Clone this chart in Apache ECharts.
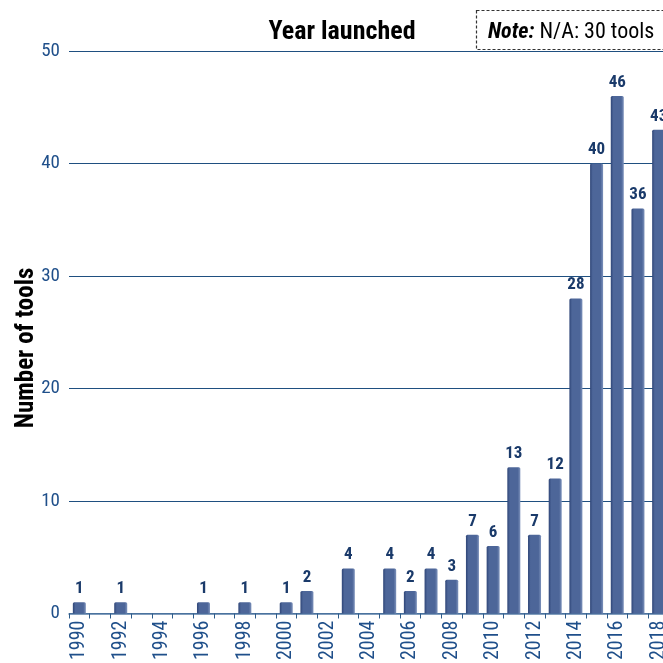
<!DOCTYPE html>
<html><head><meta charset="utf-8">
<script src="https://cdn.jsdelivr.net/npm/echarts@6/dist/echarts.min.js"></script>
<style>html,body{margin:0;padding:0;background:#fff;overflow:hidden}#c{width:669px;height:663px}</style>
</head><body><div id="c"></div>
<script>
const years = ['1990','1991','1992','1993','1994','1995','1996','1997','1998','1999','2000','2001','2002','2003','2004','2005','2006','2007','2008','2009','2010','2011','2012','2013','2014','2015','2016','2017','2018'];
const tools = [1,'-',1,'-','-','-',1,'-',1,'-',1,2,'-',4,'-',4,2,4,3,7,6,13,7,12,28,40,46,36,43];
const yTicks = {min:0, max:50, interval:10};
const titleText = 'Year launched';
const noteBold = 'Note:';
const noteText = ' N/A: 30 tools';
const yName = 'Number of tools';

const FONT = '"Liberation Sans Narrow", "Roboto Condensed", "Liberation Sans", Arial, sans-serif';
const chart = echarts.init(document.getElementById('c'));
chart.setOption({
  animation:false,
  grid:{left:69, right:0, top:51, bottom:47, containLabel:false},
  xAxis:{
    type:'category', data:years,
    axisLine:{lineStyle:{color:'#5a7fa8', width:1.5}},
    axisTick:{show:true, alignWithLabel:false, interval:0, length:5, lineStyle:{color:'#2e5c8a'}},
    axisLabel:{interval:1, rotate:90, color:'#1f4f8a', fontSize:20, fontFamily:FONT, margin:7}
  },
  yAxis:{
    type:'value', min:yTicks.min, max:yTicks.max, interval:yTicks.interval,
    axisLine:{show:false}, axisTick:{show:false},
    axisLabel:{color:'#1f4f8a', fontSize:19, fontFamily:FONT, margin:9},
    splitLine:{lineStyle:{color:'#1f4f80', width:1}}
  },
  series:[{
    type:'bar', data:tools, barWidth:13,
    itemStyle:{
      color:new echarts.graphic.LinearGradient(0,0,1,0,[
        {offset:0,color:'#2e4577'},{offset:0.2,color:'#4d6699'},{offset:0.8,color:'#4d6699'},{offset:1,color:'#7d92bb'}]),
      borderRadius:[1.5,1.5,0,0]
    },
    label:{show:true, position:'top', distance:5, color:'#1a3a6a', fontWeight:'bold', fontSize:17, fontFamily:FONT}
  }],
  graphic:[
    {type:'text', x:342, y:32, style:{text:titleText, font:'bold 26px '+FONT, fill:'#000', textAlign:'center', textVerticalAlign:'middle'}},
    {type:'text', x:27, y:348, rotation:Math.PI/2, style:{text:yName, font:'bold 25px '+FONT, fill:'#000', textAlign:'center', textVerticalAlign:'middle'}},
    {type:'rect', shape:{x:476.5, y:10.5, width:210, height:39}, style:{fill:'#fff', stroke:'#333', lineWidth:1.2, lineDash:[3,2]}},
    {type:'text', x:488, y:32, style:{rich:{b:{font:'italic bold 22px '+FONT, fill:'#000'}, n:{font:'22px '+FONT, fill:'#000'}}, text:'{b|'+noteBold+'}{n|'+noteText+'}', textVerticalAlign:'middle'}}
  ]
});
</script></body></html>
